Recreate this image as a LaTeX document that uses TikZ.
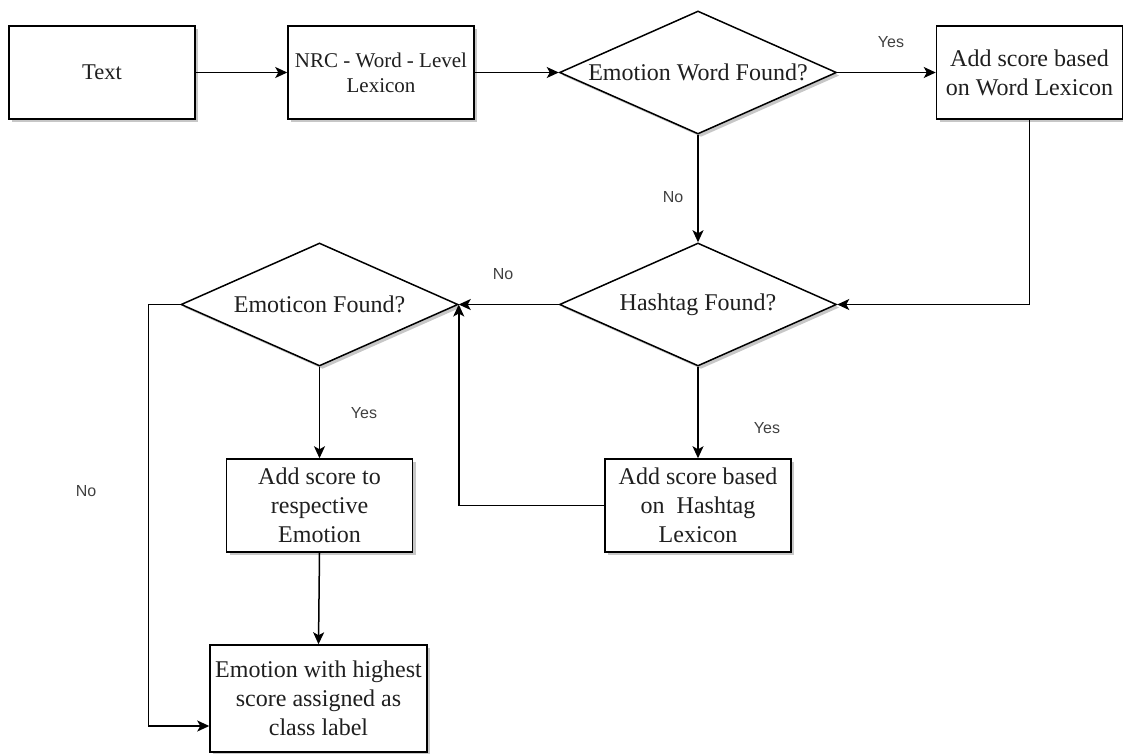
\documentclass[tikz,border=0pt]{standalone}
\usepackage{fontspec}
\setmainfont{Liberation Serif}
\newfontfamily\labelfont{Liberation Sans}
\usetikzlibrary{shapes.geometric,arrows.meta,shadows,calc}
\begin{document}
\begin{tikzpicture}[x=1pt,y=-1pt,
  shad/.style={drop shadow={shadow xshift=3pt,shadow yshift=-3pt,fill=black!22,opacity=1}},
  box/.style={draw=black, line width=1.5pt, fill=white, rectangle,
    minimum width=186pt, minimum height=93pt, inner sep=0pt, align=center,
    font=\fontsize{24}{29}\selectfont, text=black!88, shad},
  dec/.style={draw=black, line width=1.5pt, fill=white, diamond, aspect=2.25,
    minimum width=277pt, minimum height=123pt, inner sep=0pt, align=center,
    font=\fontsize{24}{29}\selectfont, text=black!88, shad},
  conn/.style={line width=1.5pt, -{Stealth[length=12pt,width=11pt,inset=3pt]}},
  lab/.style={font=\labelfont\fontsize{16}{19}\selectfont, text=black!75, inner sep=0pt}
]
\useasboundingbox (0,0) rectangle (1123,754);

\node[box,font=\fontsize{22.5}{27}\selectfont] (text) at (102,72.5) {Text};
\node[box,font=\fontsize{21}{25}\selectfont] (nrc) at (381,72.5) {NRC - Word - Level\\Lexicon};
\node[dec] (ew) at (698,72.5) {Emotion Word Found?};
\node[box] (wl) at (1029.5,72.5) {Add score based\\on Word Lexicon};
\node[dec] (hd) at (698,304.5) {Hashtag Found?};
\node[dec] (ed) at (319.5,304.5) {Emoticon Found?};
\node[box] (hl) at (698,505.5) {Add score based\\on\ \ Hashtag\\Lexicon};
\node[box] (as) at (319.5,505.5) {Add score to\\respective\\Emotion};
\node[box, minimum width=217pt, minimum height=107pt] (fin) at (318.5,698.5) {Emotion with highest\\score assigned as\\class label};

\coordinate (finin) at ($(fin.west)+(0,27.5)$);

\draw[conn] (text) -- (nrc);
\draw[conn] (nrc) -- (ew.west);
\draw[conn] (ew.east) -- (wl);
\draw[conn] (ew.south) -- (hd.north);
\draw[conn] (wl.south) |- (hd.east);
\draw[conn] (hd.west) -- (ed.east);
\draw[conn] (hd.south) -- (hl.north);
\draw[conn] (hl.west) -| (ed.east);
\draw[conn] (ed.south) -- (as.north);
\draw[conn] (as.south) -- (fin.north);
\draw[conn] (ed.west) -- ++(-32,0) |- (finin);

\node[lab] (ly1) at (891,42) {Yes};
\node[lab] (ln1) at (673,197) {No};
\node[lab] (ln2) at (503,274) {No};
\node[lab] (ly2) at (767,428) {Yes};
\node[lab] (ly3) at (364,413) {Yes};
\node[lab] (ln3) at (86,491) {No};
\end{tikzpicture}
\end{document}
